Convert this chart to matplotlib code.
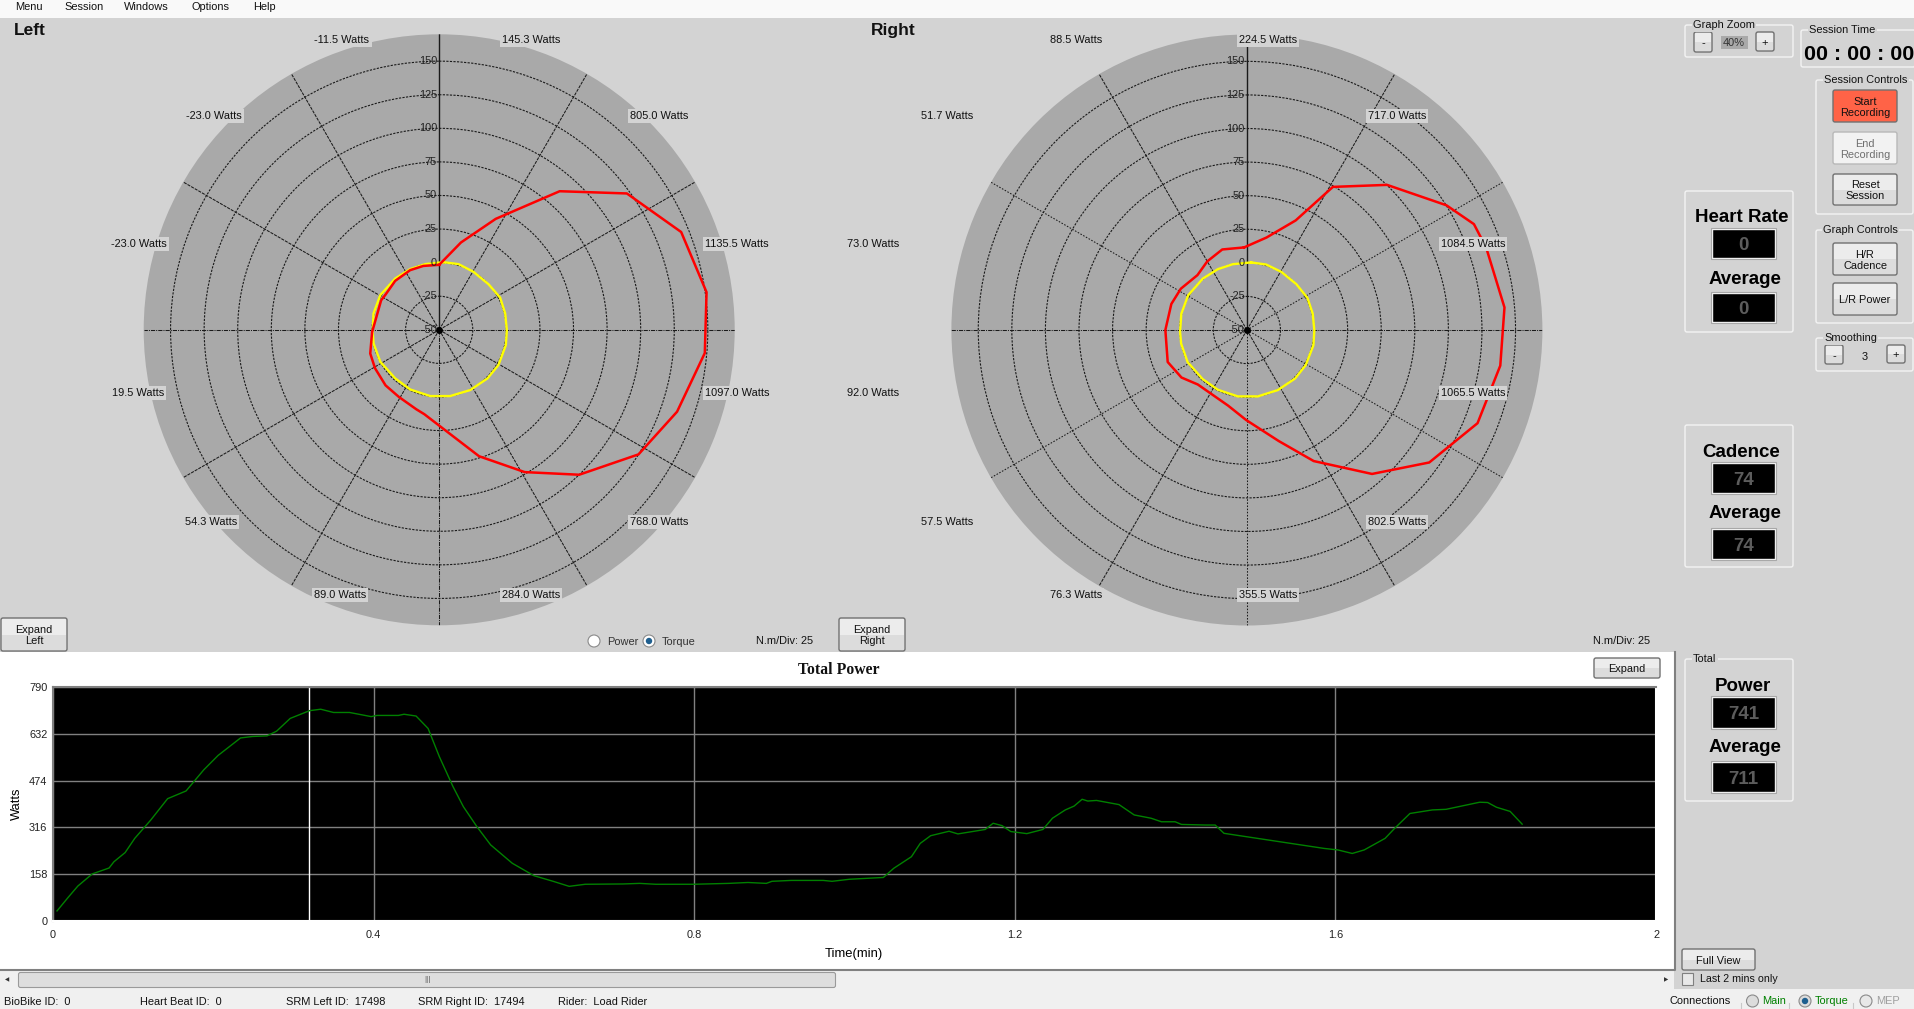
import numpy as np
import matplotlib
matplotlib.use("Agg")
import matplotlib.pyplot as plt
from matplotlib.patches import Rectangle, FancyBboxPatch, Circle

plt.rcParams['font.family'] = ['Liberation Sans', 'DejaVu Sans']

# torque traces, angle in degrees clockwise from top, torque in N.m
left_red_deg = [0, 14, 27, 41, 54, 68, 82, 95, 109, 122, 136, 149, 162.5, 190, 196, 211, 224, 239, 251, 268, 297, 303, 318, 334, 346]
left_red_nm = [-1.6, 17, 42.7, 86.7, 122.7, 144.3, 151, 148.5, 137.3, 125, 100, 73.6, 48.7, 13.8, 11.6, 8.3, 7.5, 5.7, 4.3, 0, -1.5, -2.2, -1, -0.6, -1]
left_yel_deg = [3.6, 16.4, 30.6, 47.2, 62.1, 76.1, 90.3, 102.9, 120.8, 135.2, 152.8, 170.6, 187.7, 205.9, 222.1, 241.5, 258.2, 268.3, 283.9, 300.5, 319.4, 334.5, 348]
left_yel_nm = [0.45, 0.97, 0.15, 0, 1.3, 0.6, 0.37, 0.9, 1.3, 1, 0.45, 0, -0.2, -0.6, -1.2, -0.1, -0.1, -0.4, 0.4, 0.9, 0.3, 0.1, 0]

right_red_deg = [358, 12, 24, 31, 44, 58, 65, 71, 85, 98, 112, 126, 139, 153, 164, 180.5, 194, 222, 234, 248, 270, 289, 302, 318, 330, 343]
right_red_nm = [11.5, 20.4, 39.3, 74.3, 100.2, 125.2, 136.5, 138.4, 142.5, 140.5, 135.2, 117.8, 92, 59.5, 36, 17, 8, 4.6, 10.2, 13.6, 10.7, 9.5, 8, 5, 9, 12.7]
right_yel_deg = [3.6, 16.4, 30.6, 47.2, 62.1, 76.1, 90.3, 102.9, 120.8, 135.2, 152.8, 170.6, 187.7, 205.9, 222.1, 241.5, 258.2, 268.3, 283.9, 300.5, 319.4, 334.5, 348]
right_yel_nm = [0.4, 0.8, 0.3, 0.2, 1.0, 0.5, 0.2, 0.8, 1.0, 0.9, 0.3, 0.1, -0.1, -0.5, -0.8, 0.2, 0, -0.2, 0.3, 0.8, 0.4, 0.2, 0.1]

radial_ticks = [-50, -25, 0, 25, 50, 75, 100, 125, 150]

left_watts = ["145.3", "805.0", "1135.5", "1097.0", "768.0", "284.0", "89.0", "54.3", "19.5", "-23.0", "-23.0", "-11.5"]
right_watts = ["224.5", "717.0", "1084.5", "1065.5", "802.5", "355.5", "76.3", "57.5", "92.0", "73.0", "51.7", "88.5"]

# total power trace
total_t = [0.005, 0.019, 0.031, 0.049, 0.07, 0.076, 0.09, 0.102, 0.122, 0.143, 0.166, 0.188, 0.206, 0.234, 0.249,
           0.267, 0.279, 0.296, 0.32, 0.334, 0.35, 0.37, 0.397, 0.404, 0.431, 0.438, 0.453, 0.468, 0.482, 0.499,
           0.512, 0.529, 0.546, 0.573, 0.6, 0.624, 0.644, 0.664, 0.711, 0.732, 0.752, 0.799, 0.843, 0.867, 0.89,
           0.897, 0.921, 0.961, 0.972, 0.994, 1.036, 1.049, 1.071, 1.082, 1.095, 1.118, 1.129, 1.163, 1.173, 1.184,
           1.195, 1.215, 1.235, 1.247, 1.263, 1.274, 1.284, 1.291, 1.302, 1.33, 1.349, 1.37, 1.383, 1.4, 1.408,
           1.438, 1.45, 1.461, 1.586, 1.603, 1.621, 1.636, 1.662, 1.674, 1.693, 1.721, 1.738, 1.78, 1.79, 1.801,
           1.818, 1.833]
total_w = [34, 80, 118, 159, 179, 200, 231, 279, 341, 413, 439, 510, 559, 618, 623,
           625, 641, 684, 710, 715, 704, 704, 690, 694, 694, 698, 692, 650, 555, 454,
           386, 318, 257, 195, 153, 134, 117, 124, 125, 127, 124, 124, 127, 130, 127,
           134, 137, 137, 134, 141, 147, 178, 217, 262, 288, 303, 294, 309, 330, 322,
           302, 295, 309, 347, 375, 388, 411, 405, 407, 393, 358, 347, 335, 335, 326,
           324, 324, 296, 245, 240, 228, 240, 279, 313, 363, 375, 377, 401, 400, 384,
           370, 327]
power_ticks = [0, 158, 316, 474, 632, 790]
time_ticks = [0, 0.4, 0.8, 1.2, 1.6, 2]
cursor_t = 0.32

W, H = 1914, 1009
FORM = '#d3d3d3'

fig = plt.figure(figsize=(W / 100, H / 100), dpi=100, facecolor=FORM)


def px_axes(x0, y0, x1, y1, **kw):
    return fig.add_axes([x0 / W, 1 - y1 / H, (x1 - x0) / W, (y1 - y0) / H], **kw)


# layers: back panels, then the charts, then the controls on top
back = px_axes(0, 0, W, H, zorder=0)
back.set_xlim(0, W)
back.set_ylim(H, 0)
back.axis('off')
ui = px_axes(0, 0, W, H, zorder=5)
ui.set_xlim(0, W)
ui.set_ylim(H, 0)
ui.axis('off')
ui.patch.set_alpha(0)

back.add_patch(Rectangle((0, 0), W, 18, fc='#f9f9f9', ec='none'))
back.add_patch(Rectangle((0, 652), 1675, 318, fc='white', ec='none'))
back.plot([0, 1675, 1675], [970, 970, 652], color='#808080', lw=1.5)
back.add_patch(Rectangle((0, 971), 1674, 18, fc='#f0f0f0', ec='none'))
back.add_patch(Rectangle((0, 989), W, 20, fc='#f0f0f0', ec='none'))
back.add_patch(FancyBboxPatch((19, 973), 816, 14, boxstyle='round,pad=0.5,rounding_size=2',
                              fc='#dedede', ec='#9a9a9a', lw=0.8))


def polar_chart(cx, cy, red_deg, red_nm, yel_deg, yel_nm, spoke_styles):
    R = 295.5
    ax = px_axes(cx - R, cy - R, cx + R, cy + R, projection='polar', zorder=1)
    ax.set_theta_zero_location('N')
    ax.set_theta_direction(-1)
    ax.set_rlim(-50, 170)
    ax.set_facecolor('#a9a9a9')
    ax.spines['polar'].set_visible(False)
    ax.set_xticks(np.radians(np.arange(0, 360, 30)))
    ax.set_xticklabels([])
    ax.set_yticks(radial_ticks[1:])
    ax.set_yticklabels([])
    ax.tick_params(length=0)
    ax.grid(True, color='#1a1a1a', lw=0.8)
    for line in ax.yaxis.get_gridlines():
        line.set_linestyle((0, (2, 1.2)))
        line.set_linewidth(0.8)
    for line, style in zip(ax.xaxis.get_gridlines(), spoke_styles):
        line.set_linestyle(style)
        line.set_linewidth(1.0 if style == '-' else 0.75)
    for v in radial_ticks:
        ax.annotate(str(v), (0, v), xytext=(-1.5, 0), textcoords='offset points',
                    ha='right', va='center', fontsize=7.9, color='#222222')
    ax.plot(np.radians(yel_deg + yel_deg[:1]), yel_nm + yel_nm[:1], color='#ffff00', lw=1.7)
    ax.plot(np.radians(red_deg + red_deg[:1]), red_nm + red_nm[:1], color='#ff0000', lw=1.8)
    ax.plot([0], [-50], 'o', color='black', ms=4, clip_on=False)
    ax.set_rlim(-50, 170)
    return ax


fine = (0, (3, 1))
dots = (0, (1.5, 1.5))
dashdot = (0, (4, 1, 1, 1))
left_styles = ['-', fine, fine, dashdot, fine, fine, dashdot, fine, fine, dashdot, fine, fine]
right_styles = ['-', fine, dots, dashdot, dots, fine, dots, fine, dots, dashdot, dots, fine]
polar_chart(439.2, 329.8, left_red_deg, left_red_nm, left_yel_deg, left_yel_nm, left_styles)
polar_chart(1246.9, 330, right_red_deg, right_red_nm, right_yel_deg, right_yel_nm, right_styles)

# total power chart
tp = px_axes(53, 687, 1656, 921, zorder=1)
tp.set_facecolor('black')
tp.set_xlim(0, 2)
tp.set_ylim(0, 790)
tp.set_xticks(time_ticks)
tp.set_xticklabels(['0', '0.4', '0.8', '1.2', '1.6', '2'])
tp.set_yticks(power_ticks)
tp.tick_params(length=0, labelsize=7.9, colors='#222222')
tp.tick_params(axis='x', pad=6.5)
tp.tick_params(axis='y', pad=4)
for t in tp.get_yticklabels():
    t.set_verticalalignment('center_baseline')
tp.grid(True, color='#808080', lw=1)
tp.set_axisbelow(True)
for side, col in [('top', '#808080'), ('left', '#808080'), ('right', 'white'), ('bottom', 'white')]:
    tp.spines[side].set_color(col)
    tp.spines[side].set_linewidth(1.5)
tp.axvline(cursor_t, color='white', lw=1)
tp.plot(total_t, total_w, color='#008000', lw=1)
tp.set_xlabel('Time(min)', fontsize=9.4)
tp.xaxis.set_label_coords(0.4997, -0.117)
tp.set_ylabel('Watts', fontsize=9.3)
tp.yaxis.set_label_coords(-0.0187, 0.5)


def label(x, y, s, size=7.9, ha='center', color='#111111', **kw):
    # text box centre sits above the visual centre of the letters, so nudge down
    return ui.text(x, y + size * 0.17, s, fontsize=size, ha=ha, va='center', color=color, linespacing=1.1, **kw)


def button(x0, y0, x1, y1, s, fc='#ececec', fc2='#dcdcdc', color='#111111', ec='#707070', size=7.9):
    ui.add_patch(FancyBboxPatch((x0 + 1, y0 + 1), x1 - x0 - 2, y1 - y0 - 2, boxstyle='round,pad=1,rounding_size=2',
                                fc=fc, ec=ec, lw=1))
    ui.add_patch(Rectangle((x0 + 1, (y0 + y1) / 2), x1 - x0 - 2, (y1 - y0) / 2 - 1, fc=fc2, ec='none'))
    label((x0 + x1) / 2, (y0 + y1) / 2, s, color=color, size=size)


def group(x0, y0, x1, y1, title=None, tx=None):
    ui.add_patch(FancyBboxPatch((x0 + 1, y0 + 1), x1 - x0 - 2, y1 - y0 - 2, boxstyle='round,pad=1,rounding_size=2',
                                fc='none', ec='#f4f4f4', lw=1))
    if title:
        label(tx, y0 - 1, title, ha='left', bbox=dict(fc=FORM, ec='none', pad=1))


def readout(x0, y0, x1, y1, s):
    ui.add_patch(Rectangle((x0, y0), x1 - x0, y1 - y0, fc='black', ec='#f4f4f4', lw=1))
    ui.add_patch(Rectangle((x0 - 1, y0 - 1), x1 - x0 + 2, y1 - y0 + 2, fc='none', ec='#a8a8a8', lw=0.8))
    label((x0 + x1) / 2, (y0 + y1) / 2, s, size=13.5, color='#5c5c5c', fontweight='bold')


def radio(x, y, on=False, fc='white'):
    ui.add_patch(Circle((x, y), 6, fc=fc, ec='#8a8a8a', lw=0.8))
    if on:
        ui.add_patch(Circle((x, y), 3.2, fc='#1f5f8f', ec='none'))


# menu
for x, s in zip([29, 84, 146.5, 211, 264], ['Menu', 'Session', 'Windows', 'Options', 'Help']):
    label(x, 6, s)

label(30, 28, 'Left', size=12.5, fontweight='bold')
label(893, 28, 'Right', size=12.5, fontweight='bold')

# watts labels around the dials
left_pos = [(531, 39), (659, 115), (737, 243), (737, 392), (659, 521), (531, 594),
            (340, 594), (211, 521), (138, 392), (139, 243), (214, 115), (342, 39)]
right_pos = [(1268, 39), (1397, 115), (1473, 243), (1473, 392), (1397, 521), (1268, 594),
             (1076, 594), (947, 521), (873, 392), (873, 243), (947, 115), (1076, 39)]
for names, pos in [(left_watts, left_pos), (right_watts, right_pos)]:
    for s, (x, y) in zip(names, pos):
        label(x, y, s + ' Watts', bbox=dict(fc=FORM, ec='none', pad=1.5))

button(1, 618, 67, 651, 'Expand\nLeft')
button(839, 618, 905, 651, 'Expand\nRight')
radio(594, 641)
label(607, 641, 'Power', ha='left', color='#333333')
radio(649, 641, on=True)
label(662, 641, 'Torque', ha='left', color='#333333')
label(785, 640, 'N.m/Div: 25')
label(1622, 640, 'N.m/Div: 25')

# total power header
label(839, 668, 'Total Power', size=11.3, family='Liberation Serif', fontweight='bold')
button(1594, 658, 1660, 678, 'Expand')

# right hand controls
group(1685, 25, 1793, 57, 'Graph Zoom', 1693)
button(1694, 32, 1712, 52, '-', size=8)
ui.add_patch(Rectangle((1721, 36), 27, 13, fc='#a9a9a9', ec='none'))
label(1734, 42, '40%', color='#333333')
button(1756, 32, 1774, 51, '+', size=8)

group(1801, 30, 1916, 67, 'Session Time', 1809)
label(1859, 52, '00 : 00 : 00', size=15.4, fontweight='bold', color='black')

group(1816, 80, 1913, 214, 'Session Controls', 1824)
button(1833, 90, 1897, 122, 'Start\nRecording', fc='#ff6347', fc2='#ff6347')
button(1833, 132, 1897, 164, 'End\nRecording', fc='#f2f2f2', fc2='#f2f2f2', color='#707070', ec='#b8b8b8')
button(1833, 174, 1897, 205, 'Reset\nSession')

group(1816, 230, 1913, 323, 'Graph Controls', 1823)
button(1833, 243, 1897, 275, 'H/R\nCadence')
button(1833, 283, 1897, 315, 'L/R Power')

group(1816, 338, 1913, 371, 'Smoothing', 1824)
button(1825, 345, 1843, 364, '-', size=8)
label(1865, 356, '3')
button(1887, 345, 1905, 363, '+', size=8)

group(1685, 191, 1793, 332)
label(1742, 215, 'Heart Rate', size=13.5, fontweight='bold', color='black')
readout(1712, 229, 1775, 258, '0')
label(1745, 277, 'Average', size=13.5, fontweight='bold', color='black')
readout(1712, 293, 1775, 322, '0')

group(1685, 425, 1793, 567)
label(1741, 450, 'Cadence', size=13.5, fontweight='bold', color='black')
readout(1712, 463, 1775, 493, '74')
label(1745, 511, 'Average', size=13.5, fontweight='bold', color='black')
readout(1712, 529, 1775, 559, '74')

group(1685, 659, 1793, 801, 'Total', 1693)
label(1743, 684, 'Power', size=13.5, fontweight='bold', color='black')
readout(1712, 697, 1775, 728, '741')
label(1745, 745, 'Average', size=13.5, fontweight='bold', color='black')
readout(1712, 762, 1775, 792, '711')

button(1682, 949, 1755, 970, 'Full View')
ui.add_patch(Rectangle((1682, 973), 11, 12, fc='#e8e8e8', ec='#808080', lw=0.8))
label(1700, 978, 'Last 2 mins only', ha='left', size=7.7)

# status bar
for x, s in zip([4, 140, 286, 418, 558],
                ['BioBike ID:  0', 'Heart Beat ID:  0', 'SRM Left ID:  17498', 'SRM Right ID:  17494', 'Rider:  Load Rider']):
    label(x, 1001, s, ha='left')
label(1670, 1000, 'Connections', ha='left')
for x in [1741, 1789, 1853]:
    ui.plot([x, x], [1003, 1009], color='#c8c8c8', lw=0.8)
radio(1752.5, 1001, fc='#dcdcdc')
label(1762, 1000, 'Main', ha='left', color='#008000')
radio(1805, 1001, on=True, fc='#dcdcdc')
label(1815, 1000, 'Torque', ha='left', color='#008000')
radio(1866, 1001, fc='#e8e8e8')
label(1876, 1000, 'MEP', ha='left', color='#a0a0a0')

# scroll bar arrows and grip
label(7, 979, '\u25c0', size=4, color='#333333', family=['DejaVu Sans'])
label(1666, 979, '\u25b6', size=4, color='#333333', family=['DejaVu Sans'])
label(427, 978, '|||', size=6, color='#555555')

fig.savefig('out.png', dpi=100, facecolor=FORM)
